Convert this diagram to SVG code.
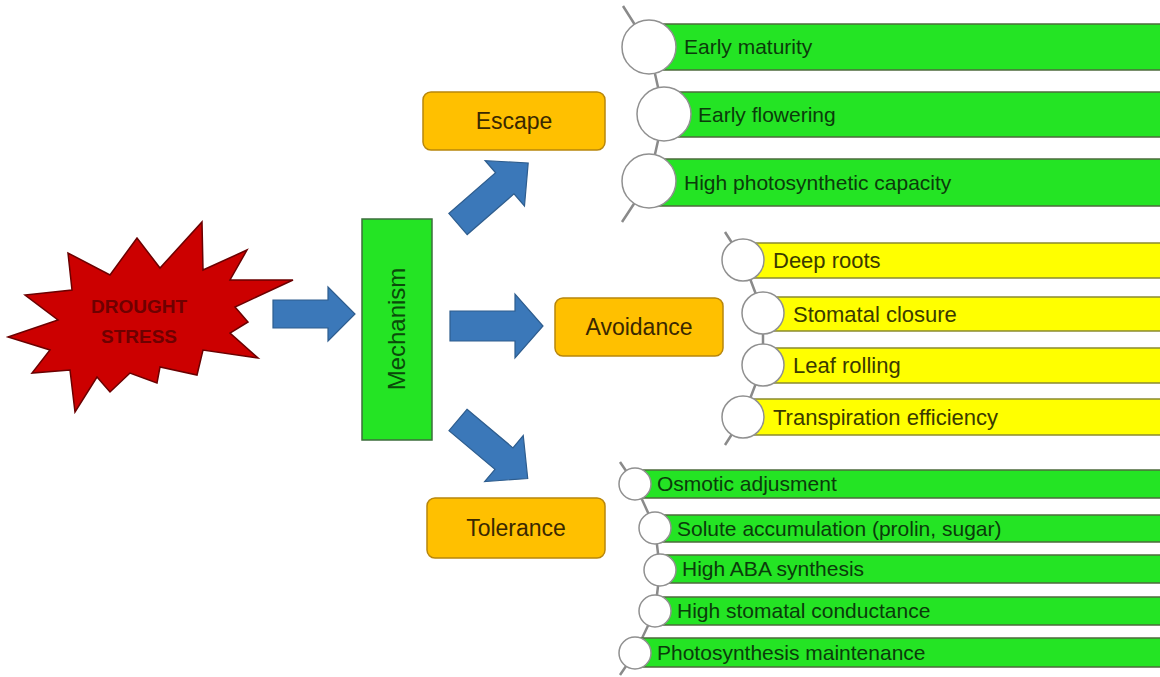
<svg xmlns="http://www.w3.org/2000/svg" width="1160" height="677" viewBox="0 0 1160 677">
<style>
.arrow{fill:#3b78b9;stroke:#2e5d8e;stroke-width:1.2}
.box{fill:#ffc000;stroke:#b8860b;stroke-width:1.5}
.boxtxt{font-family:"Liberation Sans",Arial,sans-serif;font-size:23px;fill:#3a2800;text-anchor:middle}
.gbar{fill:#24e424;stroke:#4d6b3d;stroke-width:1.5}
.ybar{fill:#ffff00;stroke:#8a8a30;stroke-width:1.5}
.circ{fill:#ffffff;stroke:#909090;stroke-width:1.5}
.spine{fill:none;stroke:#8a8a8a;stroke-width:2.5}
.gtxt{font-family:"Liberation Sans",Arial,sans-serif;font-size:21px;fill:#0b3b0b}
.ytxt{font-family:"Liberation Sans",Arial,sans-serif;font-size:22px;fill:#3a3a00}
.stxt{font-family:"Liberation Sans",Arial,sans-serif;font-size:19px;font-weight:bold;fill:#6e0000;text-anchor:middle}
</style>
<rect width="1160" height="677" fill="#ffffff"/>

<g id="drought-stress">
<polygon points="8,337 58,320 25,295 72,290 68,253 110,275 137,238 160,268 202,222 203,270 247,250 230,280 293,280 235,307 248,322 230,333 258,358 203,350 197,375 160,367 157,383 130,373 110,392 97,377 75,412 70,370 32,373 50,350" fill="#cc0000" stroke="#6b0000" stroke-width="1.5" stroke-linejoin="miter"/>
<text class="stxt" x="139" y="313">DROUGHT</text>
<text class="stxt" x="139" y="343">STRESS</text>
</g>

<g id="mechanism">
<rect x="362" y="219" width="70" height="221" fill="#24e424" stroke="#3d6e3d" stroke-width="1.5"/>
<text transform="translate(397,329) rotate(-90)" x="0" y="8" font-family="Liberation Sans, Arial, sans-serif" font-size="24" fill="#0a4a0a" text-anchor="middle">Mechanism</text>
</g>

<g id="connectors">
<polygon class="arrow" points="273,300 328,300 328,287 355,314 328,341 328,328 273,328"/>
<polygon class="arrow" points="450,311 515,311 515,294 543,326 515,358 515,341 450,341"/>
<polygon class="arrow" transform="translate(458,224) rotate(-41)" points="0,-14 62,-14 62,-30 93,0 62,30 62,14 0,14"/>
<polygon class="arrow" transform="translate(458,420) rotate(40)" points="0,-14 60,-14 60,-30 91,0 60,30 60,14 0,14"/>
</g>

<g id="escape">
<rect class="box" x="423" y="92" width="182" height="58" rx="8"/>
<text class="boxtxt" x="514" y="129">Escape</text>
</g>
<g id="avoidance">
<rect class="box" x="555" y="298" width="168" height="58" rx="8"/>
<text class="boxtxt" x="639" y="335">Avoidance</text>
</g>
<g id="tolerance">
<rect class="box" x="427" y="498" width="178" height="60" rx="8"/>
<text class="boxtxt" x="516" y="536">Tolerance</text>
</g>

<g id="escape-list">
<polyline class="spine" points="623,6 649,47 664,114 649,181 622,222"/>
<rect class="gbar" x="649" y="24" width="520" height="46"/>
<rect class="gbar" x="664" y="92" width="505" height="45"/>
<rect class="gbar" x="649" y="159" width="520" height="47"/>
<circle class="circ" cx="649" cy="47" r="27"/>
<circle class="circ" cx="664" cy="114" r="27"/>
<circle class="circ" cx="649" cy="181" r="27"/>
<text class="gtxt" x="684" y="54">Early maturity</text>
<text class="gtxt" x="698" y="122">Early flowering</text>
<text class="gtxt" x="684" y="190">High photosynthetic capacity</text>
</g>

<g id="avoidance-list">
<polyline class="spine" points="725,232 743,260 763,313 763,365 743,417 725,445"/>
<rect class="ybar" x="743" y="243" width="430" height="35"/>
<rect class="ybar" x="763" y="297" width="410" height="34"/>
<rect class="ybar" x="763" y="348" width="410" height="35"/>
<rect class="ybar" x="743" y="399" width="430" height="36"/>
<circle class="circ" cx="743" cy="260" r="21"/>
<circle class="circ" cx="763" cy="313" r="21"/>
<circle class="circ" cx="763" cy="365" r="21"/>
<circle class="circ" cx="743" cy="417" r="21"/>
<text class="ytxt" x="773" y="268">Deep roots</text>
<text class="ytxt" x="793" y="322">Stomatal closure</text>
<text class="ytxt" x="793" y="373">Leaf rolling</text>
<text class="ytxt" x="773" y="425">Transpiration efficiency</text>
</g>

<g id="tolerance-list">
<polyline class="spine" points="620,462 635,484 655,528 660,570 655,611 635,653 620,675"/>
<rect class="gbar" x="635" y="470" width="540" height="28"/>
<rect class="gbar" x="655" y="515" width="520" height="27"/>
<rect class="gbar" x="660" y="555" width="515" height="28"/>
<rect class="gbar" x="655" y="597" width="520" height="28"/>
<rect class="gbar" x="635" y="638" width="540" height="29"/>
<circle class="circ" cx="635" cy="484" r="16"/>
<circle class="circ" cx="655" cy="528" r="16"/>
<circle class="circ" cx="660" cy="570" r="16"/>
<circle class="circ" cx="655" cy="611" r="16"/>
<circle class="circ" cx="635" cy="653" r="16"/>
<text class="gtxt" x="657" y="491">Osmotic adjusment</text>
<text class="gtxt" x="677" y="536">Solute accumulation (prolin, sugar)</text>
<text class="gtxt" x="682" y="576">High ABA synthesis</text>
<text class="gtxt" x="677" y="618">High stomatal conductance</text>
<text class="gtxt" x="657" y="660">Photosynthesis maintenance</text>
</g>
</svg>
